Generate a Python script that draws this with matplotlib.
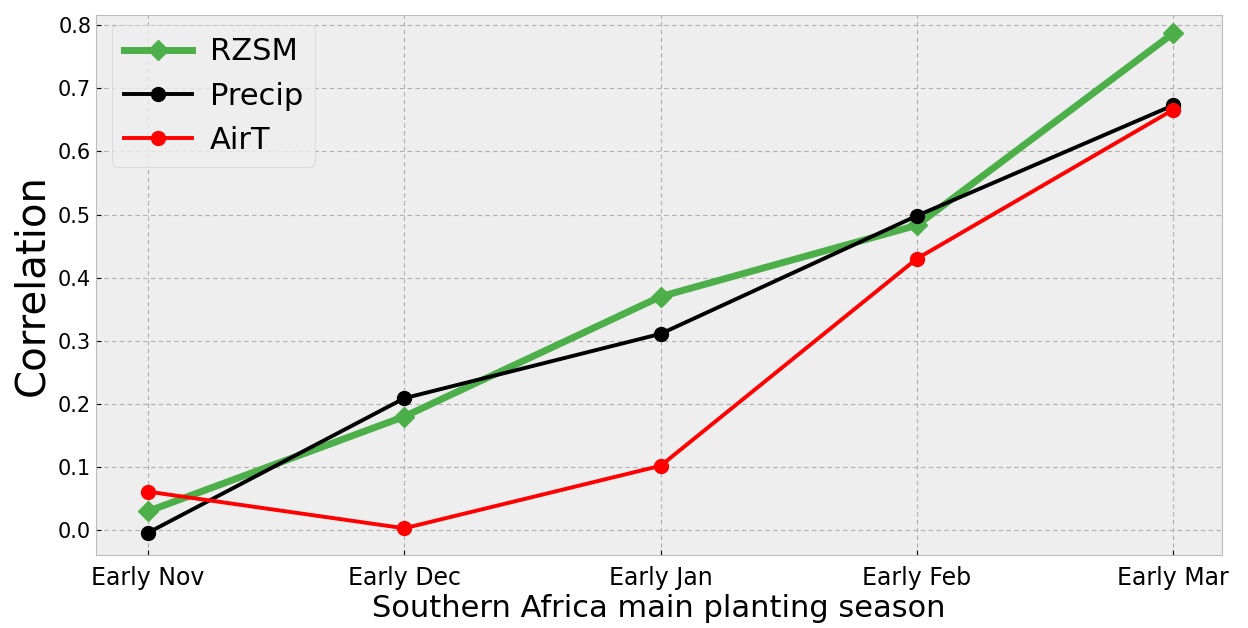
import numpy as np
import matplotlib
matplotlib.use('Agg')
import matplotlib.pyplot as plt

plt.style.use('bmh')

# data
months = ['Early Nov', 'Early Dec', 'Early Jan', 'Early Feb', 'Early Mar']
rzsm = [0.03, 0.18, 0.37, 0.483, 0.787]
precip = [-0.004, 0.209, 0.311, 0.498, 0.673]
airt = [0.061, 0.003, 0.102, 0.43, 0.666]

fig = plt.figure(figsize=(12.48, 6.28), dpi=100)
ax = fig.add_axes([0.077, 0.116, 0.902, 0.86])

x = np.arange(len(months))
ax.plot(x, rzsm, color='#4daf4a', lw=5, marker='D', ms=10, label='RZSM')
ax.plot(x, precip, color='black', lw=2.8, marker='o', ms=10, label='Precip')
ax.plot(x, airt, color='red', lw=2.8, marker='o', ms=10, label='AirT')

ax.grid(True, linestyle=(0, (4, 3)), linewidth=0.8, color='#b0b0b0')
ax.set_xticks(x)
ax.set_xticklabels(months, fontsize=17)
ax.set_yticks(np.arange(0, 0.81, 0.1))
ax.tick_params(axis='y', labelsize=15)
ax.tick_params(axis='x', pad=8)
ax.set_ylim(-0.0396, 0.816)
ax.set_xlim(-0.203, 4.19)
ax.set_ylabel('Correlation', fontsize=29)
ax.set_xlabel('Southern Africa main planting season', fontsize=22, labelpad=3)
ax.legend(loc='upper left', bbox_to_anchor=(0.0142, 0.9815), borderaxespad=0,
          fontsize=22, handlelength=2.2, handletextpad=0.6)

plt.savefig('out.png', dpi=100)
